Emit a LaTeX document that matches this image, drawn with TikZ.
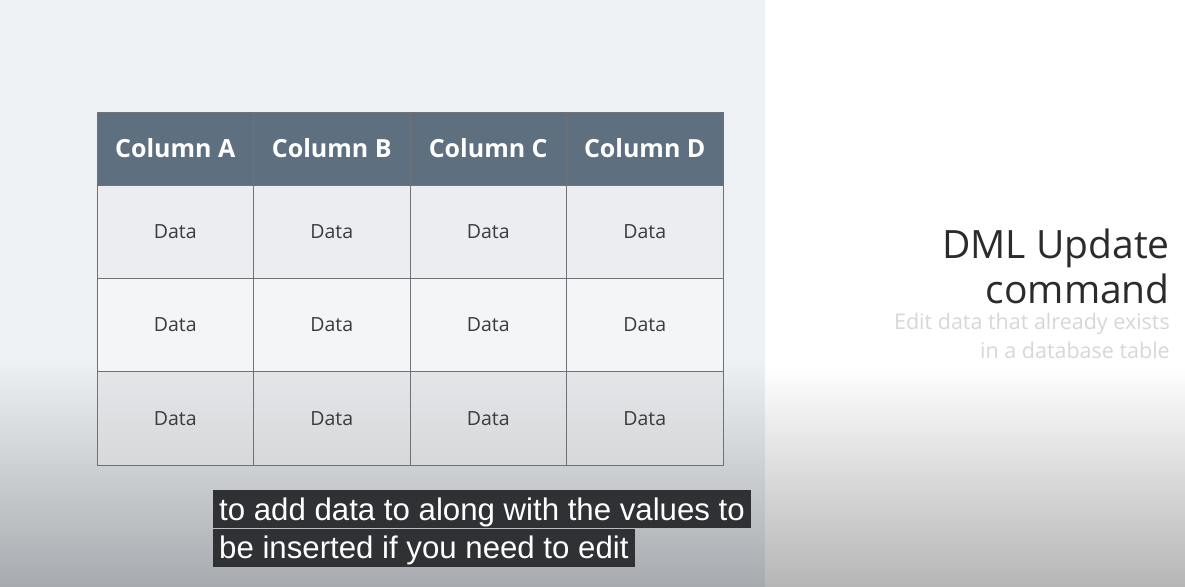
\documentclass[tikz,border=0pt]{standalone}
\usepackage{fontspec}
\setmainfont{Open Sans}
\newfontfamily\capfont{Liberation Sans}
\usetikzlibrary{positioning}

\definecolor{panel}{HTML}{EEF1F4}
\definecolor{panelbot}{HTML}{A7ABAF}
\definecolor{rightbot}{HTML}{B6B6B6}
\definecolor{headblue}{HTML}{5E6F80}
\definecolor{gridline}{HTML}{6E7276}
\definecolor{rowone}{HTML}{EBEDF0}
\definecolor{rowtwo}{HTML}{F4F5F7}
\definecolor{rowthreetop}{HTML}{E4E5E8}
\definecolor{rowthreebot}{HTML}{D6D8DA}
\definecolor{datatext}{HTML}{3A3B3D}
\definecolor{titletext}{HTML}{2A2B2D}
\definecolor{subtext}{HTML}{D7D7D7}
\definecolor{capbox}{HTML}{303134}

\tikzset{
  headcell/.style={draw=gridline, fill=headblue, text=white, minimum width=156.5pt,
    minimum height=73pt, inner sep=0pt, outer sep=0pt, font=\fontsize{25}{30}\selectfont\bfseries},
  datacell/.style={draw=gridline, minimum width=156.5pt, minimum height=93.3pt,
    inner sep=0pt, outer sep=0pt, text=datatext, font=\fontsize{19.5}{23}\selectfont},
  titleline/.style={anchor=base east, inner sep=0pt, text=titletext, font=\fontsize{39}{45}\selectfont},
  subline/.style={anchor=base east, inner sep=0pt, text=subtext, font=\fontsize{21.5}{25}\selectfont},
  capline/.style={anchor=north west, fill=capbox, text=white, inner xsep=6pt, inner ysep=0pt,
    text height=30pt, text depth=8pt, font=\capfont\fontsize{31.2}{36}\selectfont}
}

\begin{document}
\begin{tikzpicture}[x=1pt, y=-1pt]
    \useasboundingbox (0,0) rectangle (1185,586);
    % backgrounds
    \fill [panel] (0,0) rectangle (765,586);
    \shade [top color=panel, bottom color=panelbot] (0,360) rectangle (765,586);
    \fill [white] (765,0) rectangle (1185,586);
    \shade [top color=white, bottom color=rightbot] (765,365) rectangle (1185,586);
    % table
    \foreach \c [count=\i] in {A,B,C,D} {
        \node [headcell] (col\c) at ({97+156.5*(\i-0.5)},148.5) {Column \c};
        \node [datacell, fill=rowone, below=0pt of col\c] (r1\c) {Data};
        \node [datacell, fill=rowtwo, below=0pt of r1\c] (r2\c) {Data};
        \node [datacell, top color=rowthreetop, bottom color=rowthreebot, below=0pt of r2\c] (r3\c) {Data};
    }
    % title
    \node [titleline] (title1) at (1170,258) {DML Update};
    \node [titleline] (title2) at (1170,303) {command};
    \node [subline] (sub1) at (1170,329) {Edit data that already exists};
    \node [subline] (sub2) at (1170,358) {in a database table};
    % caption
    \node [capline] (cap1) at (213,490) {to add data to along with the values to};
    \node [capline] (cap2) at (cap1.south west) {be inserted if you need to edit};
\end{tikzpicture}
\end{document}
